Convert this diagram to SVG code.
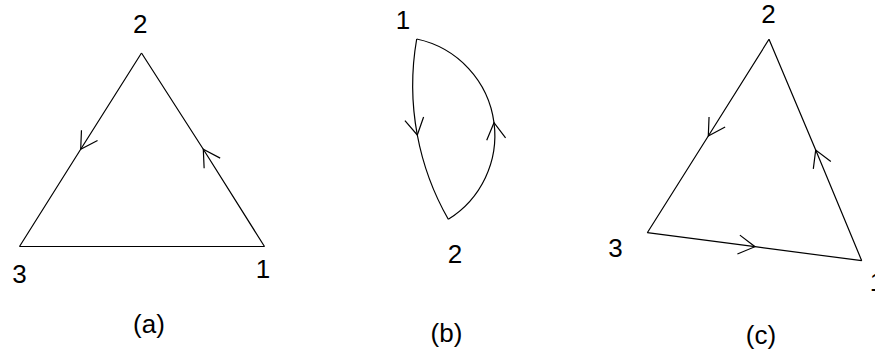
<svg xmlns="http://www.w3.org/2000/svg" width="875" height="353" viewBox="0 0 875 353">
<style>
  .e { fill: none; stroke: #000; stroke-width: 1.2; }
  .arr { marker-mid: url(#arr); }
  text { font-family: "Liberation Sans", Arial, sans-serif; font-size: 26px; fill: #000; text-anchor: middle; }
</style>
<defs>
  <marker id="arr" markerUnits="userSpaceOnUse" orient="auto" viewBox="-18 -11 20 22" markerWidth="20" markerHeight="22" refX="0" refY="0" overflow="visible">
    <path d="M-16.5,-9.5 L0,0 L-16.5,9.5" fill="none" stroke="#000" stroke-width="1.2"/>
  </marker>
</defs>

<g id="connectors">
  <!-- (a) -->
  <path class="e arr" d="M141.5,53 L80.7,149.3 L19.5,246.5"/>
  <path class="e arr" d="M264.5,246.5 L203.3,149.3 L141.5,53"/>
  <path class="e" d="M19.5,246.5 L264.5,246.5"/>
  <!-- (b) -->
  <path class="e arr" d="M416.7,39 A269.8,269.8 0 0 0 417.3,135 A269.8,269.8 0 0 0 448.3,219.3"/>
  <path class="e arr" d="M448.3,219.3 A98.6,98.6 0 0 0 494,122.7 A98.6,98.6 0 0 0 416.7,39"/>
  <!-- (c) -->
  <path class="e arr" d="M769,39.3 L708.3,136 L647.3,232.7"/>
  <path class="e arr" d="M861.7,260.7 L815.7,150 L769,39.3"/>
  <path class="e arr" d="M647.3,232.7 L755,246.7 L861.7,260.7"/>
</g>

<g id="node-a2"><text x="140.3" y="33">2</text></g>
<g id="node-a3"><text x="19.5" y="283">3</text></g>
<g id="node-a1"><text x="263" y="278">1</text></g>
<g id="caption-a"><text x="149" y="333">(a)</text></g>

<g id="node-b1"><text x="403" y="29">1</text></g>
<g id="node-b2"><text x="455" y="263">2</text></g>
<g id="caption-b"><text x="446.5" y="342">(b)</text></g>

<g id="node-c2"><text x="768.5" y="23">2</text></g>
<g id="node-c3"><text x="615.5" y="257">3</text></g>
<g id="node-c1"><text x="877" y="291">1</text></g>
<g id="caption-c"><text x="761" y="344">(c)</text></g>
</svg>
